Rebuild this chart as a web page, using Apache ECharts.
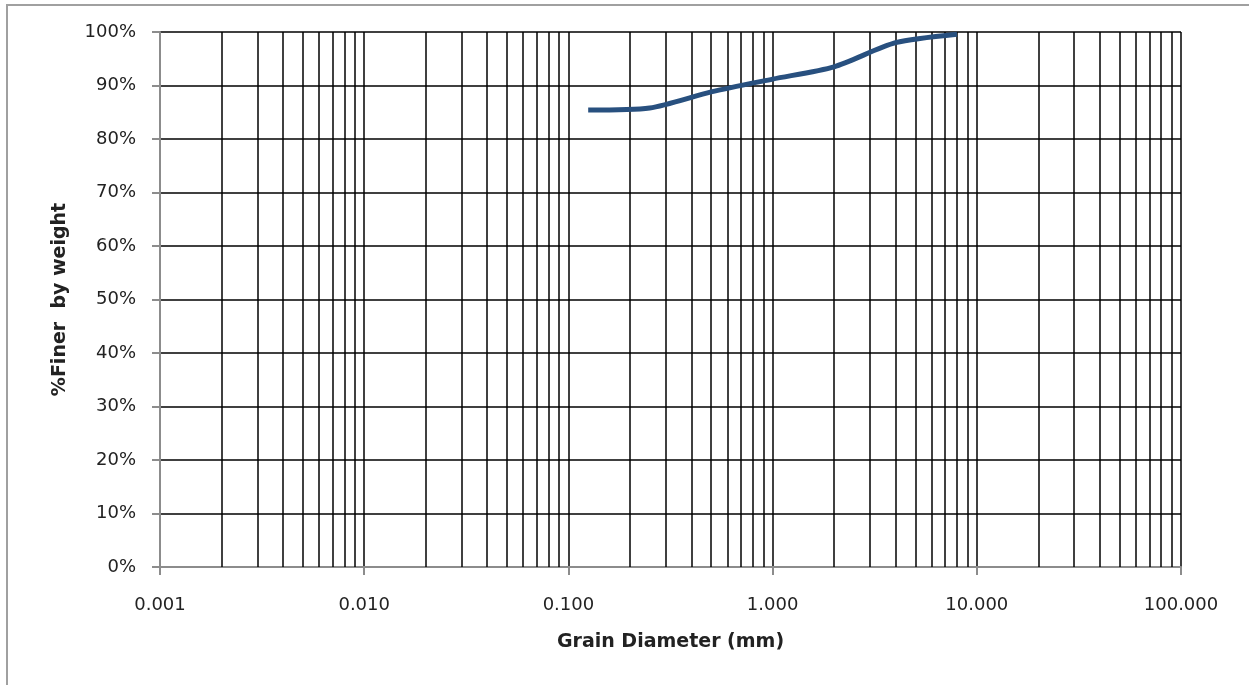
<!DOCTYPE html>
<html>
<head>
<meta charset="utf-8">
<script src="https://cdn.jsdelivr.net/npm/echarts@6/dist/echarts.min.js"></script>
<style>
  html, body { margin: 0; padding: 0; background: #fff; }
  #frame { position: absolute; left: 6px; top: 4px; width: 1243px; height: 681px; border-left: 2px solid #a0a0a0; border-top: 2px solid #a0a0a0; }
  #chart { position: absolute; left: 0; top: 0; width: 1249px; height: 685px; }
</style>
</head>
<body>
<div id="frame"></div>
<div id="chart"></div>
<script>
// grain size (mm) vs fraction finer
const grainSize = [0.125, 0.25, 0.5, 1.0, 2.0, 4.0, 8.0]
const percentFiner = [0.854, 0.858, 0.888, 0.912, 0.935, 0.98, 0.996]
const decades = [0.001, 0.01, 0.1, 1, 10]
const multiples = [2, 3, 4, 5, 6, 7, 8, 9]

const minorLines = []
decades.forEach((d) => {
  multiples.forEach((m) => minorLines.push(+(d * m).toPrecision(3)))
})

const font = 'DejaVu Sans'
const chart = echarts.init(document.getElementById('chart'))
const option = {
  animation: false,
  grid: { left: 160, right: 68, top: 32, bottom: 118 },
  xAxis: {
    type: 'log',
    logBase: 10,
    min: 0.001,
    max: 100,
    name: 'Grain Diameter (mm)',
    nameLocation: 'middle',
    nameGap: 66,
    nameTextStyle: { fontFamily: font, fontSize: 19, fontWeight: 'bold', color: '#222' },
    axisLine: { lineStyle: { color: '#8c8c8c', width: 2 } },
    axisTick: { show: true, length: 8, lineStyle: { color: '#8c8c8c', width: 2 } },
    axisLabel: {
      margin: 29,
      fontFamily: font,
      fontSize: 18,
      color: '#222',
      formatter: (v) => Number(v).toFixed(3)
    },
    splitLine: { show: true, lineStyle: { color: '#000', width: 1.5 } }
  },
  yAxis: {
    type: 'value',
    min: 0,
    max: 1,
    interval: 0.1,
    name: '%Finer  by weight',
    nameLocation: 'middle',
    nameGap: 90,
    nameTextStyle: { fontFamily: font, fontSize: 19, fontWeight: 'bold', color: '#222' },
    axisLine: { show: true, lineStyle: { color: '#8c8c8c', width: 2 } },
    axisTick: { show: true, length: 8, lineStyle: { color: '#8c8c8c', width: 2 } },
    axisLabel: {
      margin: 24,
      fontFamily: font,
      fontSize: 18,
      color: '#222',
      formatter: (v) => Math.round(v * 100) + '%'
    },
    splitLine: { show: true, lineStyle: { color: '#000', width: 1.5 } }
  },
  series: [
    {
      type: 'line',
      data: [],
      silent: true,
      z: 1,
      markLine: {
        silent: true,
        precision: 6,
        symbol: ['none', 'none'],
        label: { show: false },
        emphasis: { disabled: true },
        lineStyle: { color: '#000', width: 1.5, type: 'solid' },
        data: minorLines.map((v) => ({ xAxis: v }))
      }
    },
    {
      type: 'line',
      z: 5,
      data: grainSize.map((g, i) => [g, percentFiner[i]]),
      showSymbol: false,
      smooth: 0.25,
      lineStyle: { color: '#28507f', width: 5 }
    }
  ]
}
chart.setOption(option)
</script>
</body>
</html>
